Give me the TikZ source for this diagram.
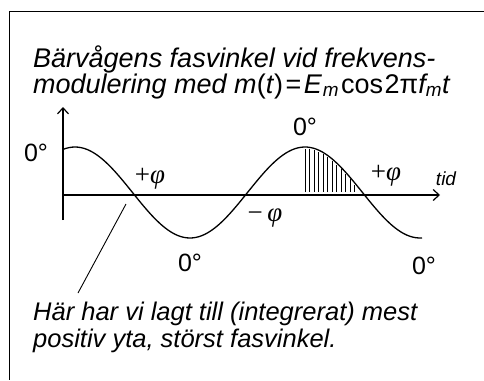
\documentclass[tikz,border=0pt]{standalone}
\usepackage{fontspec}
\setmainfont{Liberation Sans}
\newfontfamily\greekfont{Liberation Serif}
\usetikzlibrary{arrows.meta}

\begin{document}
\begin{tikzpicture}[
    x=1pt, y=-1pt,
    txt/.style={font=\fontsize{27}{29}\selectfont\itshape, inner sep=0pt, anchor=base west},
    note/.style={font=\fontsize{25.5}{27}\selectfont\itshape, inner sep=0pt, anchor=base west},
    deg/.style={font=\fontsize{25}{27}\selectfont, inner sep=0pt},
    phase/.style={font=\fontsize{27}{29}\selectfont\greekfont, inner sep=0pt},
    axis/.style={-{Straight Barb[length=6pt,width=11pt]}, line width=1.2pt},
    wave/.style={line width=1.3pt},
    hatch/.style={line width=0.9pt}
]
    \useasboundingbox (0,0) rectangle (484,380);

    % FRAME (top and left edge only)
    \coordinate (fr1) at (484,11);
    \coordinate (fr2) at (9,11);
    \coordinate (fr3) at (9,380);
    \draw[line width=1pt] (fr1) -- (fr2) -- (fr3);

    % TITLE
    \node (title1) [txt] at (33,67) {Bärvågens fasvinkel vid frekvens-};
    \node (title2) [txt] at (33,93) {modulering med \textit{m}\textup{(}\textit{t}\textup{)}\kern2.5pt\textup{=}\kern2.5pt\textit{E}\kern1pt\textsubscript{\textit{m}}\kern2pt\textup{cos}\kern1.5pt\textup{2π}\textit{f}\textsubscript{\textit{m}}\textit{t}};

    % AXES
    \coordinate (O) at (63,195);
    \coordinate (ybot) at (63,220);
    \coordinate (ytop) at (63,107);
    \coordinate (xend) at (440,195);
    \draw[axis] (ybot) -- (ytop);
    \draw[axis] (O) -- (xend);
    \node (tid) [font=\fontsize{19}{21}\selectfont\itshape, inner sep=0pt] at (446,179) {tid};

    % CARRIER PHASE CURVE
    \draw[wave, domain=63:422, samples=120, smooth]
        plot (\x, {192.5-45.5*cos(1.5652*(\x-305))});

    % INTEGRATED AREA
    \foreach \k in {0,...,11} {
        \pgfmathsetmacro{\hx}{305+4.5*\k}
        \pgfmathsetmacro{\hy}{194.5-45.5*cos(1.5652*(\hx-305))}
        \draw[hatch] (\hx,192) -- (\hx,\hy);
    }

    % PHASE LABELS
    \node (d1) [deg] at (36,153) {0°};
    \node (d2) [deg] at (305,127) {0°};
    \node (d3) [deg] at (190,263) {0°};
    \node (d4) [deg] at (424,266) {0°};
    \node (p1) [phase] at (150,179) {+\textit{φ}};
    \node (p2) [phase] at (386,176) {+\textit{φ}};
    \node (m1) [phase] at (265,218) {−\,\textit{φ}};

    % NOTE
    \coordinate (tip) at (126,204);
    \coordinate (tail) at (78,293);
    \draw[line width=0.9pt] (tip) -- (tail);
    \node (note1) [note] at (33,320) {Här har vi lagt till (integrerat) mest};
    \node (note2) [note] at (33,347) {positiv yta, störst fasvinkel.};

\end{tikzpicture}
\end{document}
